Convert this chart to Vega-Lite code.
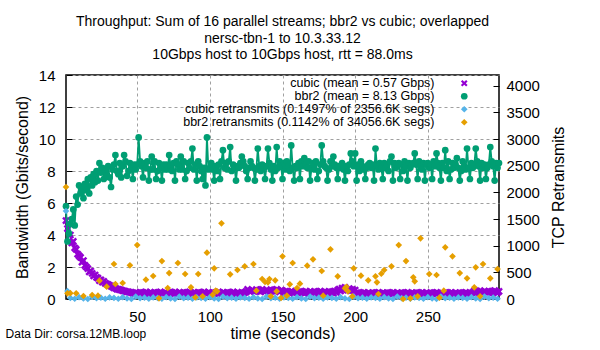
{
"$schema":"https://vega.github.io/schema/vega-lite/v6.json",
"background":"white",
"padding":{"left":5,"top":14,"right":5,"bottom":5},
"datasets":{
"bw":[
{"t":1,"b":5.8,"c":4.9},{"t":2,"b":3.6,"c":4.4},{"t":3,"b":4.1,"c":4.7},{"t":4,"b":4.7,"c":4.0},{"t":5,"b":5.0,"c":3.5},{"t":6,"b":5.6,"c":3.6},{"t":7,"b":4.6,"c":3.2},{"t":8,"b":6.4,"c":3.1},{"t":9,"b":5.9,"c":2.8},{"t":10,"b":7.1,"c":2.7},
{"t":11,"b":6.6,"c":2.6},{"t":12,"b":6.9,"c":2.3},{"t":13,"b":6.3,"c":2.4},{"t":14,"b":7.2,"c":2.1},{"t":15,"b":6.8,"c":2.0},{"t":16,"b":7.5,"c":1.9},{"t":17,"b":6.6,"c":1.7},{"t":18,"b":7.6,"c":1.75},{"t":19,"b":7.1,"c":1.6},{"t":20,"b":7.8,"c":1.45},
{"t":21,"b":7.3,"c":1.5},{"t":22,"b":8.0,"c":1.35},{"t":23,"b":7.4,"c":1.3},{"t":24,"b":8.5,"c":1.15},{"t":25,"b":7.9,"c":1.2},{"t":26,"b":8.2,"c":1.05},{"t":27,"b":7.5,"c":1.1},{"t":28,"b":8.0,"c":0.98},{"t":29,"b":7.7,"c":0.95},{"t":30,"b":8.3,"c":0.9},
{"t":31,"b":7.6,"c":0.85},{"t":32,"b":7.0,"c":0.8},{"t":33,"b":8.1,"c":0.75},{"t":34,"b":8.4,"c":0.7},{"t":35,"b":9.0,"c":0.68},{"t":36,"b":8.0,"c":0.62},{"t":37,"b":7.8,"c":0.6},{"t":38,"b":8.5,"c":0.58},{"t":39,"b":7.6,"c":0.55},{"t":40,"b":8.3,"c":0.52},
{"t":41,"b":9.0,"c":0.5},{"t":42,"b":8.6,"c":0.48},{"t":43,"b":7.7,"c":0.45},{"t":44,"b":8.0,"c":0.44},{"t":45,"b":8.5,"c":0.42},{"t":46,"b":8.2,"c":0.4},{"t":47,"b":7.5,"c":0.36},{"t":48,"b":8.4,"c":0.33},{"t":49,"b":8.1,"c":0.41},{"t":50,"b":8.4,"c":0.38},
{"t":51,"b":10.1,"c":0.32},{"t":52,"b":8.6,"c":0.42},{"t":53,"b":8.3,"c":0.35},{"t":54,"b":7.6,"c":0.4},{"t":55,"b":8.5,"c":0.3},{"t":56,"b":8.2,"c":0.44},{"t":57,"b":8.6,"c":0.36},{"t":58,"b":7.4,"c":0.33},{"t":59,"b":8.1,"c":0.41},{"t":60,"b":8.9,"c":0.38},
{"t":61,"b":8.1,"c":0.32},{"t":62,"b":8.6,"c":0.42},{"t":63,"b":7.5,"c":0.35},{"t":64,"b":8.0,"c":0.4},{"t":65,"b":8.5,"c":0.3},{"t":66,"b":8.2,"c":0.44},{"t":67,"b":7.4,"c":0.36},{"t":68,"b":8.4,"c":0.33},{"t":69,"b":8.1,"c":0.41},{"t":70,"b":8.4,"c":0.38},
{"t":71,"b":8.1,"c":0.32},{"t":72,"b":9.0,"c":0.42},{"t":73,"b":8.3,"c":0.35},{"t":74,"b":8.0,"c":0.4},{"t":75,"b":8.5,"c":0.3},{"t":76,"b":7.4,"c":0.44},{"t":77,"b":8.6,"c":0.36},{"t":78,"b":8.4,"c":0.33},{"t":79,"b":8.1,"c":0.41},{"t":80,"b":8.9,"c":0.38},
{"t":81,"b":8.1,"c":0.32},{"t":82,"b":8.6,"c":0.42},{"t":83,"b":7.5,"c":0.35},{"t":84,"b":8.0,"c":0.4},{"t":85,"b":8.5,"c":0.3},{"t":86,"b":8.2,"c":0.44},{"t":87,"b":8.6,"c":0.36},{"t":88,"b":9.4,"c":0.33},{"t":89,"b":8.1,"c":0.41},{"t":90,"b":8.4,"c":0.38},
{"t":91,"b":7.4,"c":0.32},{"t":92,"b":8.6,"c":0.42},{"t":93,"b":8.3,"c":0.35},{"t":94,"b":8.0,"c":0.4},{"t":95,"b":7.5,"c":0.3},{"t":96,"b":8.2,"c":0.44},{"t":97,"b":7.1,"c":0.36},{"t":98,"b":10.1,"c":0.33},{"t":99,"b":8.1,"c":0.41},{"t":100,"b":8.2,"c":0.38},
{"t":101,"b":8.5,"c":0.32},{"t":102,"b":8.1,"c":0.42},{"t":103,"b":7.4,"c":0.35},{"t":104,"b":8.3,"c":0.4},{"t":105,"b":8.0,"c":0.3},{"t":106,"b":8.4,"c":0.44},{"t":107,"b":7.5,"c":0.36},{"t":108,"b":8.6,"c":0.33},{"t":109,"b":9.3,"c":0.41},{"t":110,"b":8.2,"c":0.38},
{"t":111,"b":8.5,"c":0.32},{"t":112,"b":8.1,"c":0.42},{"t":113,"b":8.6,"c":0.35},{"t":114,"b":9.5,"c":0.4},{"t":115,"b":8.0,"c":0.3},{"t":116,"b":8.4,"c":0.44},{"t":117,"b":8.2,"c":0.36},{"t":118,"b":7.4,"c":0.33},{"t":119,"b":8.3,"c":0.41},{"t":120,"b":8.2,"c":0.38},
{"t":121,"b":8.5,"c":0.32},{"t":122,"b":8.9,"c":0.42},{"t":123,"b":8.6,"c":0.35},{"t":124,"b":8.3,"c":0.4},{"t":125,"b":8.0,"c":0.47},{"t":126,"b":7.5,"c":0.6},{"t":127,"b":8.2,"c":0.5},{"t":128,"b":8.6,"c":0.45},{"t":129,"b":8.3,"c":0.54},{"t":130,"b":8.2,"c":0.52},
{"t":131,"b":7.4,"c":0.46},{"t":132,"b":8.1,"c":0.58},{"t":133,"b":9.4,"c":0.5},{"t":134,"b":8.3,"c":0.55},{"t":135,"b":8.0,"c":0.47},{"t":136,"b":8.4,"c":0.6},{"t":137,"b":8.2,"c":0.5},{"t":138,"b":7.5,"c":0.45},{"t":139,"b":8.3,"c":0.54},{"t":140,"b":9.4,"c":0.52},
{"t":141,"b":8.5,"c":0.46},{"t":142,"b":8.1,"c":0.58},{"t":143,"b":7.4,"c":0.5},{"t":144,"b":8.3,"c":0.55},{"t":145,"b":8.0,"c":0.47},{"t":146,"b":9.5,"c":0.6},{"t":147,"b":8.2,"c":0.5},{"t":148,"b":8.6,"c":0.45},{"t":149,"b":8.3,"c":0.54},{"t":150,"b":7.5,"c":0.52},
{"t":151,"b":8.5,"c":0.37},{"t":152,"b":8.1,"c":0.47},{"t":153,"b":8.6,"c":0.4},{"t":154,"b":8.3,"c":0.45},{"t":155,"b":8.0,"c":0.35},{"t":156,"b":9.6,"c":0.49},{"t":157,"b":8.2,"c":0.41},{"t":158,"b":7.4,"c":0.38},{"t":159,"b":8.3,"c":0.46},{"t":160,"b":8.2,"c":0.43},
{"t":161,"b":8.5,"c":0.37},{"t":162,"b":7.5,"c":0.47},{"t":163,"b":8.6,"c":0.4},{"t":164,"b":8.3,"c":0.45},{"t":165,"b":8.8,"c":0.35},{"t":166,"b":8.4,"c":0.49},{"t":167,"b":8.2,"c":0.41},{"t":168,"b":8.6,"c":0.38},{"t":169,"b":7.4,"c":0.46},{"t":170,"b":8.2,"c":0.43},
{"t":171,"b":8.5,"c":0.37},{"t":172,"b":8.1,"c":0.47},{"t":173,"b":8.6,"c":0.4},{"t":174,"b":7.5,"c":0.45},{"t":175,"b":8.0,"c":0.35},{"t":176,"b":8.4,"c":0.49},{"t":177,"b":9.6,"c":0.41},{"t":178,"b":8.6,"c":0.38},{"t":179,"b":8.3,"c":0.46},{"t":180,"b":8.2,"c":0.43},
{"t":181,"b":7.4,"c":0.37},{"t":182,"b":8.1,"c":0.47},{"t":183,"b":8.6,"c":0.4},{"t":184,"b":8.3,"c":0.45},{"t":185,"b":8.9,"c":0.35},{"t":186,"b":8.4,"c":0.49},{"t":187,"b":8.2,"c":0.41},{"t":188,"b":7.5,"c":0.55},{"t":189,"b":8.3,"c":0.62},{"t":190,"b":8.2,"c":0.5},
{"t":191,"b":8.5,"c":0.68},{"t":192,"b":8.1,"c":0.58},{"t":193,"b":7.4,"c":0.72},{"t":194,"b":8.3,"c":0.6},{"t":195,"b":8.0,"c":0.55},{"t":196,"b":8.4,"c":0.65},{"t":197,"b":9.1,"c":0.52},{"t":198,"b":8.6,"c":0.6},{"t":199,"b":8.3,"c":0.5},{"t":200,"b":9.1,"c":0.56},
{"t":201,"b":7.4,"c":0.3},{"t":202,"b":8.4,"c":0.4},{"t":203,"b":8.0,"c":0.33},{"t":204,"b":8.6,"c":0.38},{"t":205,"b":8.3,"c":0.28},{"t":206,"b":8.1,"c":0.42},{"t":207,"b":7.5,"c":0.34},{"t":208,"b":8.2,"c":0.31},{"t":209,"b":8.4,"c":0.39},{"t":210,"b":8.5,"c":0.36},
{"t":211,"b":8.2,"c":0.3},{"t":212,"b":8.4,"c":0.4},{"t":213,"b":7.4,"c":0.33},{"t":214,"b":9.4,"c":0.38},{"t":215,"b":8.3,"c":0.28},{"t":216,"b":8.1,"c":0.42},{"t":217,"b":8.5,"c":0.34},{"t":218,"b":8.2,"c":0.31},{"t":219,"b":7.5,"c":0.39},{"t":220,"b":8.5,"c":0.36},
{"t":221,"b":8.2,"c":0.3},{"t":222,"b":8.4,"c":0.4},{"t":223,"b":8.0,"c":0.33},{"t":224,"b":8.6,"c":0.38},{"t":225,"b":8.9,"c":0.28},{"t":226,"b":7.4,"c":0.42},{"t":227,"b":8.5,"c":0.34},{"t":228,"b":8.2,"c":0.31},{"t":229,"b":8.4,"c":0.39},{"t":230,"b":8.5,"c":0.36},
{"t":231,"b":7.5,"c":0.3},{"t":232,"b":8.4,"c":0.4},{"t":233,"b":8.0,"c":0.33},{"t":234,"b":8.6,"c":0.38},{"t":235,"b":8.3,"c":0.28},{"t":236,"b":7.4,"c":0.42},{"t":237,"b":8.5,"c":0.34},{"t":238,"b":8.2,"c":0.31},{"t":239,"b":8.4,"c":0.39},{"t":240,"b":8.5,"c":0.36},
{"t":241,"b":9.1,"c":0.3},{"t":242,"b":8.4,"c":0.4},{"t":243,"b":7.5,"c":0.33},{"t":244,"b":8.6,"c":0.38},{"t":245,"b":8.3,"c":0.28},{"t":246,"b":8.1,"c":0.42},{"t":247,"b":8.5,"c":0.34},{"t":248,"b":7.4,"c":0.31},{"t":249,"b":8.4,"c":0.39},{"t":250,"b":8.5,"c":0.36},
{"t":251,"b":8.2,"c":0.3},{"t":252,"b":8.4,"c":0.4},{"t":253,"b":7.5,"c":0.33},{"t":254,"b":8.6,"c":0.38},{"t":255,"b":8.3,"c":0.28},{"t":256,"b":9.1,"c":0.42},{"t":257,"b":8.5,"c":0.34},{"t":258,"b":8.2,"c":0.31},{"t":259,"b":7.4,"c":0.39},{"t":260,"b":8.5,"c":0.36},
{"t":261,"b":8.2,"c":0.3},{"t":262,"b":9.3,"c":0.4},{"t":263,"b":8.0,"c":0.33},{"t":264,"b":8.6,"c":0.38},{"t":265,"b":7.5,"c":0.28},{"t":266,"b":8.1,"c":0.42},{"t":267,"b":8.5,"c":0.34},{"t":268,"b":8.2,"c":0.31},{"t":269,"b":8.4,"c":0.39},{"t":270,"b":8.8,"c":0.36},
{"t":271,"b":8.2,"c":0.3},{"t":272,"b":7.4,"c":0.4},{"t":273,"b":8.0,"c":0.33},{"t":274,"b":8.6,"c":0.38},{"t":275,"b":8.3,"c":0.28},{"t":276,"b":8.1,"c":0.42},{"t":277,"b":9.4,"c":0.34},{"t":278,"b":8.2,"c":0.31},{"t":279,"b":7.5,"c":0.39},{"t":280,"b":8.5,"c":0.36},
{"t":281,"b":8.2,"c":0.4},{"t":282,"b":8.4,"c":0.5},{"t":283,"b":9.4,"c":0.42},{"t":284,"b":8.6,"c":0.48},{"t":285,"b":8.3,"c":0.38},{"t":286,"b":7.4,"c":0.52},{"t":287,"b":8.5,"c":0.44},{"t":288,"b":8.2,"c":0.4},{"t":289,"b":8.4,"c":0.47},{"t":290,"b":7.5,"c":0.45},
{"t":291,"b":8.2,"c":0.4},{"t":292,"b":8.4,"c":0.5},{"t":293,"b":9.5,"c":0.42},{"t":294,"b":8.6,"c":0.48},{"t":295,"b":8.3,"c":0.38},{"t":296,"b":7.4,"c":0.52},{"t":297,"b":8.5,"c":0.44},{"t":298,"b":8.2,"c":0.4},{"t":299,"b":8.5,"c":0.47}
],
"rt":[
{"t":1,"s":"cr","v":1650},{"t":2,"s":"cr","v":150},{"t":4,"s":"cr","v":20},{"t":7,"s":"cr","v":5},{"t":10,"s":"cr","v":35},{"t":13,"s":"cr","v":10},{"t":16,"s":"cr","v":0},{"t":19,"s":"cr","v":45},{"t":22,"s":"cr","v":15},{"t":25,"s":"cr","v":25},{"t":28,"s":"cr","v":5},{"t":31,"s":"cr","v":30},{"t":34,"s":"cr","v":20},{"t":37,"s":"cr","v":5},{"t":40,"s":"cr","v":35},{"t":43,"s":"cr","v":10},{"t":46,"s":"cr","v":0},{"t":49,"s":"cr","v":45},{"t":52,"s":"cr","v":15},{"t":55,"s":"cr","v":25},{"t":58,"s":"cr","v":5},{"t":61,"s":"cr","v":30},{"t":64,"s":"cr","v":20},{"t":67,"s":"cr","v":5},{"t":70,"s":"cr","v":35},{"t":73,"s":"cr","v":10},{"t":76,"s":"cr","v":0},{"t":79,"s":"cr","v":45},{"t":82,"s":"cr","v":15},{"t":85,"s":"cr","v":25},{"t":88,"s":"cr","v":5},{"t":91,"s":"cr","v":30},{"t":94,"s":"cr","v":20},{"t":97,"s":"cr","v":5},{"t":100,"s":"cr","v":35},{"t":103,"s":"cr","v":10},{"t":106,"s":"cr","v":0},{"t":109,"s":"cr","v":45},{"t":112,"s":"cr","v":15},{"t":115,"s":"cr","v":25},{"t":118,"s":"cr","v":5},{"t":121,"s":"cr","v":30},{"t":124,"s":"cr","v":20},{"t":127,"s":"cr","v":5},{"t":130,"s":"cr","v":35},{"t":133,"s":"cr","v":10},{"t":136,"s":"cr","v":0},{"t":139,"s":"cr","v":45},{"t":142,"s":"cr","v":15},{"t":145,"s":"cr","v":25},{"t":148,"s":"cr","v":5},{"t":151,"s":"cr","v":30},{"t":154,"s":"cr","v":20},{"t":157,"s":"cr","v":5},{"t":160,"s":"cr","v":35},{"t":163,"s":"cr","v":10},{"t":166,"s":"cr","v":0},{"t":169,"s":"cr","v":45},{"t":172,"s":"cr","v":15},{"t":175,"s":"cr","v":25},{"t":178,"s":"cr","v":5},{"t":181,"s":"cr","v":30},{"t":184,"s":"cr","v":20},{"t":187,"s":"cr","v":5},{"t":190,"s":"cr","v":35},{"t":193,"s":"cr","v":10},{"t":196,"s":"cr","v":0},{"t":199,"s":"cr","v":45},{"t":202,"s":"cr","v":15},{"t":205,"s":"cr","v":25},{"t":208,"s":"cr","v":5},{"t":211,"s":"cr","v":30},{"t":214,"s":"cr","v":20},{"t":217,"s":"cr","v":5},{"t":220,"s":"cr","v":35},{"t":223,"s":"cr","v":10},{"t":226,"s":"cr","v":0},{"t":229,"s":"cr","v":45},{"t":232,"s":"cr","v":15},{"t":235,"s":"cr","v":25},{"t":238,"s":"cr","v":5},{"t":241,"s":"cr","v":30},{"t":244,"s":"cr","v":20},{"t":247,"s":"cr","v":5},{"t":250,"s":"cr","v":35},{"t":253,"s":"cr","v":10},{"t":256,"s":"cr","v":0},{"t":259,"s":"cr","v":45},{"t":262,"s":"cr","v":15},{"t":265,"s":"cr","v":25},{"t":268,"s":"cr","v":5},{"t":271,"s":"cr","v":30},{"t":274,"s":"cr","v":20},{"t":277,"s":"cr","v":5},{"t":280,"s":"cr","v":35},{"t":283,"s":"cr","v":10},{"t":286,"s":"cr","v":0},{"t":289,"s":"cr","v":45},{"t":292,"s":"cr","v":15},{"t":295,"s":"cr","v":25},{"t":298,"s":"cr","v":5},
{"t":1,"s":"br","v":2100},{"t":2,"s":"br","v":107},{"t":4,"s":"br","v":110},{"t":8,"s":"br","v":107},{"t":13,"s":"br","v":56},{"t":19,"s":"br","v":75},{"t":23,"s":"br","v":62},{"t":24,"s":"br","v":344},{"t":29,"s":"br","v":231},{"t":34,"s":"br","v":656},{"t":35,"s":"br","v":281},{"t":40,"s":"br","v":300},{"t":45,"s":"br","v":632},{"t":50,"s":"br","v":1012},{"t":56,"s":"br","v":362},{"t":61,"s":"br","v":431},{"t":65,"s":"br","v":13},{"t":67,"s":"br","v":712},{"t":71,"s":"br","v":206},{"t":72,"s":"br","v":487},{"t":78,"s":"br","v":675},{"t":83,"s":"br","v":469},{"t":87,"s":"br","v":219},{"t":90,"s":"br","v":31},{"t":92,"s":"br","v":469},{"t":95,"s":"br","v":50},{"t":98,"s":"br","v":868},{"t":102,"s":"br","v":81},{"t":103,"s":"br","v":575},{"t":104,"s":"br","v":156},{"t":105,"s":"br","v":144},{"t":108,"s":"br","v":1419},{"t":114,"s":"br","v":462},{"t":119,"s":"br","v":544},{"t":124,"s":"br","v":612},{"t":130,"s":"br","v":656},{"t":132,"s":"br","v":156},{"t":136,"s":"br","v":375},{"t":138,"s":"br","v":319},{"t":140,"s":"br","v":313},{"t":141,"s":"br","v":375},{"t":142,"s":"br","v":50},{"t":145,"s":"br","v":350},{"t":146,"s":"br","v":144},{"t":149,"s":"br","v":19},{"t":150,"s":"br","v":800},{"t":153,"s":"br","v":62},{"t":155,"s":"br","v":275},{"t":157,"s":"br","v":675},{"t":160,"s":"br","v":206},{"t":162,"s":"br","v":288},{"t":167,"s":"br","v":625},{"t":171,"s":"br","v":744},{"t":177,"s":"br","v":525},{"t":178,"s":"br","v":62},{"t":183,"s":"br","v":931},{"t":188,"s":"br","v":425},{"t":193,"s":"br","v":200},{"t":194,"s":"br","v":230},{"t":195,"s":"br","v":144},{"t":198,"s":"br","v":50},{"t":199,"s":"br","v":575},{"t":204,"s":"br","v":438},{"t":209,"s":"br","v":350},{"t":214,"s":"br","v":425},{"t":215,"s":"br","v":312},{"t":216,"s":"br","v":94},{"t":218,"s":"br","v":475},{"t":220,"s":"br","v":544},{"t":225,"s":"br","v":612},{"t":230,"s":"br","v":1012},{"t":233,"s":"br","v":0},{"t":235,"s":"br","v":712},{"t":238,"s":"br","v":13},{"t":240,"s":"br","v":406},{"t":241,"s":"br","v":331},{"t":243,"s":"br","v":50},{"t":245,"s":"br","v":1138},{"t":251,"s":"br","v":469},{"t":256,"s":"br","v":450},{"t":258,"s":"br","v":25},{"t":261,"s":"br","v":156},{"t":262,"s":"br","v":969},{"t":267,"s":"br","v":800},{"t":272,"s":"br","v":487},{"t":277,"s":"br","v":388},{"t":282,"s":"br","v":219},{"t":283,"s":"br","v":594},{"t":286,"s":"br","v":50},{"t":288,"s":"br","v":656},{"t":293,"s":"br","v":388},{"t":298,"s":"br","v":562}
]
},
"title":{"text":"Data Dir: corsa.12MB.loop","orient":"bottom","anchor":"start","frame":"bounds","fontSize":12,"fontWeight":"normal","font":"Liberation Sans","color":"black","offset":-13,"dx":-8},
"vconcat":[{
"width":433,"height":224,
"title":{"text":["Throughput: Sum of 16 parallel streams; bbr2 vs cubic; overlapped","nersc-tbn-1 to 10.3.33.12","10Gbps host to 10Gbps host, rtt = 88.0ms"],"anchor":"middle","frame":"group","fontSize":14,"fontWeight":"normal","font":"Liberation Sans","lineHeight":16.5,"offset":6,"color":"black"},
"layer":[
{"data":{"name":"bw"},"transform":[{"fold":["c","b"],"as":["s","v"]}],
"encoding":{
"x":{"field":"t","type":"quantitative","scale":{"domain":[1,299],"nice":false,"zero":false},"axis":{"values":[50,100,150,200,250],"title":"time (seconds)","grid":true,"labelPadding":16,"titlePadding":1,"titleFontWeight":"normal","labelFontWeight":"normal","labelOverlap":false}},
"y":{"field":"v","type":"quantitative","scale":{"domain":[0,14],"nice":false},"axis":{"values":[0,2,4,6,8,10,12,14],"tickCount":8,"title":"Bandwidth (Gbits/second)","grid":true,"labelPadding":17,"titlePadding":8,"titleFontWeight":"normal","labelFontWeight":"normal","labelOverlap":false}}
},
"layer":[
{"transform":[{"filter":"datum.s=='c'"}],"mark":{"type":"line","strokeWidth":1.8,"color":"#9400D3"},"encoding":{}},
{"transform":[{"filter":"datum.s=='c'"}],"mark":{"type":"point","filled":true,"opacity":1,"size":60},
"encoding":{
"color":{"field":"s","type":"nominal","scale":{"domain":["c","b","cr","br"],"range":["#9400D3","#009E73","#56B4E9","#E69F00"]},"legend":{"title":null,"orient":"none","legendX":392,"legendY":2,"labelExpr":"datum.value=='c'?'cubic (mean = 0.57 Gbps)':datum.value=='b'?'bbr2 (mean = 8.13 Gbps)':datum.value=='cr'?'cubic retransmits (0.1497% of 2356.6K segs)':'bbr2 retransmits (0.1142% of 34056.6K segs)'","labelAlign":"right","labelOffset":-36,"labelLimit":400,"labelFontSize":12.5,"labelFont":"Liberation Sans","labelColor":"black","symbolSize":45,"rowPadding":0,"symbolOpacity":1}},
"shape":{"field":"s","type":"nominal","scale":{"domain":["c","b","cr","br"],"range":["M-1,-0.55L-0.55,-1L0,-0.45L0.55,-1L1,-0.55L0.45,0L1,0.55L0.55,1L0,0.45L-0.55,1L-1,0.55L-0.45,0Z","circle","diamond","diamond"]},"legend":{"title":null,"orient":"none","legendX":392,"legendY":2,"labelExpr":"datum.value=='c'?'cubic (mean = 0.57 Gbps)':datum.value=='b'?'bbr2 (mean = 8.13 Gbps)':datum.value=='cr'?'cubic retransmits (0.1497% of 2356.6K segs)':'bbr2 retransmits (0.1142% of 34056.6K segs)'","labelAlign":"right","labelOffset":-36,"labelLimit":400,"labelFontSize":12.5,"labelFont":"Liberation Sans","labelColor":"black","symbolSize":45,"rowPadding":0,"symbolOpacity":1}}
}},
{"transform":[{"filter":"datum.s=='b'"}],"mark":{"type":"line","strokeWidth":1.8,"color":"#009E73"},"encoding":{}},
{"transform":[{"filter":"datum.s=='b'"}],"mark":{"type":"point","filled":true,"opacity":1,"size":45},
"encoding":{
"color":{"field":"s","type":"nominal"},
"shape":{"field":"s","type":"nominal"}
}}
]},
{"data":{"name":"rt"},"mark":{"type":"point","filled":true,"opacity":1,"size":45},
"encoding":{
"x":{"field":"t","type":"quantitative"},
"y":{"field":"v","type":"quantitative","scale":{"domain":[0,4200],"nice":false},"axis":{"orient":"right","values":[0,500,1000,1500,2000,2500,3000,3500,4000],"format":"d","title":"TCP Retransmits","grid":false,"labelPadding":13,"titlePadding":11,"titleAngle":270,"titleBaseline":"top","titleFontWeight":"normal","labelFontWeight":"normal","labelOverlap":false}},
"color":{"field":"s","type":"nominal"},
"shape":{"field":"s","type":"nominal"}
}}
],
"resolve":{"scale":{"y":"independent"}}
}],
"config":{
"font":"Liberation Sans",
"view":{"stroke":"black","strokeWidth":1.5},
"axis":{"labelFont":"Liberation Sans","labelFontSize":15,"labelColor":"black","titleFont":"Liberation Sans","titleFontSize":16,"titleFontWeight":"normal","titleColor":"black","domain":false,"tickColor":"black","tickSize":-6,"tickWidth":1,"gridColor":"#a0a0a0","gridDash":[3,3],"gridWidth":1,"gridOpacity":1}
}
}
